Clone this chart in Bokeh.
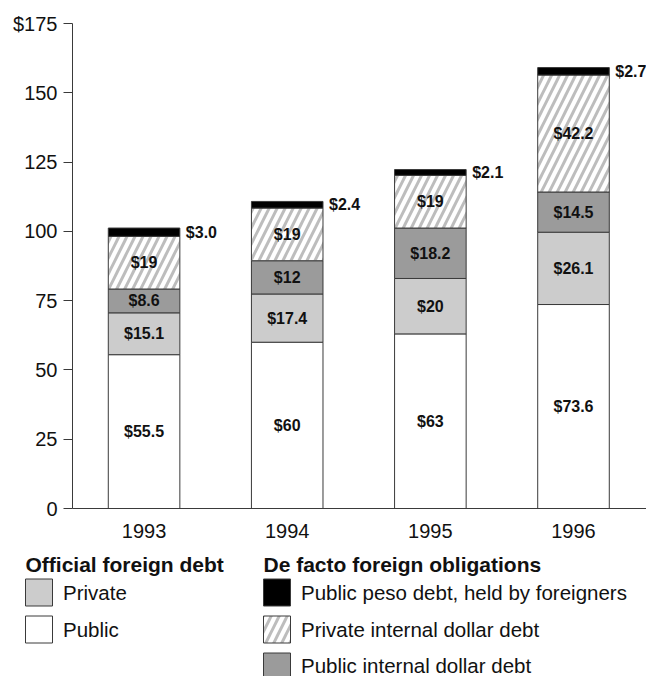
import numpy as np
from bokeh.plotting import figure
from bokeh.layouts import column, row
from bokeh.models import Range1d, FixedTicker
from bokeh.core.properties import value
from bokeh.embed import file_html
from bokeh.resources import INLINE

# Mexico's foreign obligations, billions of US dollars
years = [1993, 1994, 1995, 1996]
public_official = [55.5, 60, 63, 73.6]
private_official = [15.1, 17.4, 20, 26.1]
public_internal_dollar = [8.6, 12, 18.2, 14.5]
private_internal_dollar = [19, 19, 19, 42.2]
public_peso_foreign = [3.0, 2.4, 2.1, 2.7]
y_ticks = [0, 25, 50, 75, 100, 125, 150, 175]

FONT = "Liberation Sans"
EDGE = "#3a3a3a"
HATCH = dict(hatch_color="#bdbdbd", hatch_weight=3, hatch_scale=16)

series = [
    dict(vals=public_official, fill="#ffffff", hatch=None),
    dict(vals=private_official, fill="#cccccc", hatch=None),
    dict(vals=public_internal_dollar, fill="#9b9b9b", hatch=None),
    dict(vals=private_internal_dollar, fill="#ffffff", hatch="/"),
    dict(vals=public_peso_foreign, fill="#000000", hatch=None),
]

p = figure(width=646, height=540, output_backend="svg", toolbar_location=None,
           x_range=Range1d(1992.5, 1996.51), y_range=Range1d(0, 175),
           min_border_left=72, min_border_right=0, min_border_top=23,
           min_border_bottom=32)
p.outline_line_color = None
p.xgrid.visible = False
p.ygrid.visible = False
p.background_fill_color = "white"

x = np.array(years, dtype=float)
bottom = np.zeros(len(years))
for i, s in enumerate(series):
    v = np.array(s["vals"], dtype=float)
    top = bottom + v
    kw = dict(x=x, width=0.5, bottom=bottom, top=top, fill_color=s["fill"],
              line_color=EDGE, line_width=1)
    if s["hatch"]:
        kw.update(hatch_pattern=s["hatch"], **HATCH)
    p.vbar(**kw)
    mid = (bottom + top) / 2
    if i == len(series) - 1:
        labels = ["$" + f"{t:.1f}" for t in v]
        p.text(x=x + 0.25, y=mid, text=labels, x_offset=6,
               text_font=value(FONT), text_font_style="bold",
               text_font_size="16px", text_align="left",
               text_baseline="middle", text_color="#111111")
    else:
        labels = ["$" + f"{t:g}" for t in v]
        p.text(x=x, y=mid, text=labels,
               text_font=value(FONT), text_font_style="bold",
               text_font_size="16px", text_align="center",
               text_baseline="middle", text_color="#111111")
    bottom = top

ax = p.yaxis[0]
ax.ticker = FixedTicker(ticks=y_ticks)
ax.major_label_overrides = {y_ticks[-1]: "$" + str(y_ticks[-1])}
ax.major_label_text_font = FONT
ax.major_label_text_font_size = "20px"
ax.major_label_text_color = "#111111"
ax.major_tick_out = 9
ax.major_tick_in = 0
ax.minor_tick_line_color = None
ax.axis_line_color = EDGE
ax.major_tick_line_color = EDGE
ax.major_label_standoff = 6

bx = p.xaxis[0]
bx.ticker = FixedTicker(ticks=years)
bx.major_label_text_font = FONT
bx.major_label_text_font_size = "20px"
bx.major_label_text_color = "#111111"
bx.major_tick_line_color = None
bx.minor_tick_line_color = None
bx.axis_line_color = EDGE
bx.major_label_standoff = 9

# Legend panel, laid out in pixel-like coordinates
lg = figure(width=646, height=136, output_backend="svg", toolbar_location=None,
            x_range=Range1d(0, 646), y_range=Range1d(136, 0),
            x_axis_type=None, y_axis_type=None,
            min_border_left=0, min_border_right=0,
            min_border_top=0, min_border_bottom=0)
lg.outline_line_color = None
lg.grid.visible = False

headings = ["Official foreign debt", "De facto foreign obligations"]
lg.text(x=[25, 263], y=[24, 24], text=headings, text_font=value(FONT),
        text_font_style="bold", text_font_size="21px",
        text_baseline="middle", text_color="#111111")

left_items = [("Private", series[1]), ("Public", series[0])]
right_items = [("Public peso debt, held by foreigners", series[4]),
               ("Private internal dollar debt", series[3]),
               ("Public internal dollar debt", series[2])]
swatch_rows = [52, 89, 126]
text_rows = [52, 89, 124.5]

for col_x, items in ((38.5, left_items), (276.5, right_items)):
    for (name, s), sy, ty in zip(items, swatch_rows, text_rows):
        kw = dict(x=col_x, y=sy, width=27, height=27, fill_color=s["fill"],
                  line_color=EDGE, line_width=1)
        if s["hatch"]:
            kw.update(hatch_pattern=s["hatch"], **HATCH)
        lg.rect(**kw)
        lg.text(x=col_x + 24, y=ty, text=[name], text_font=value(FONT),
                text_font_size="20.5px", text_baseline="middle",
                text_color="#111111")

layout = column(p, row(lg), spacing=0)
open("out.html", "w").write(file_html(layout, INLINE))
